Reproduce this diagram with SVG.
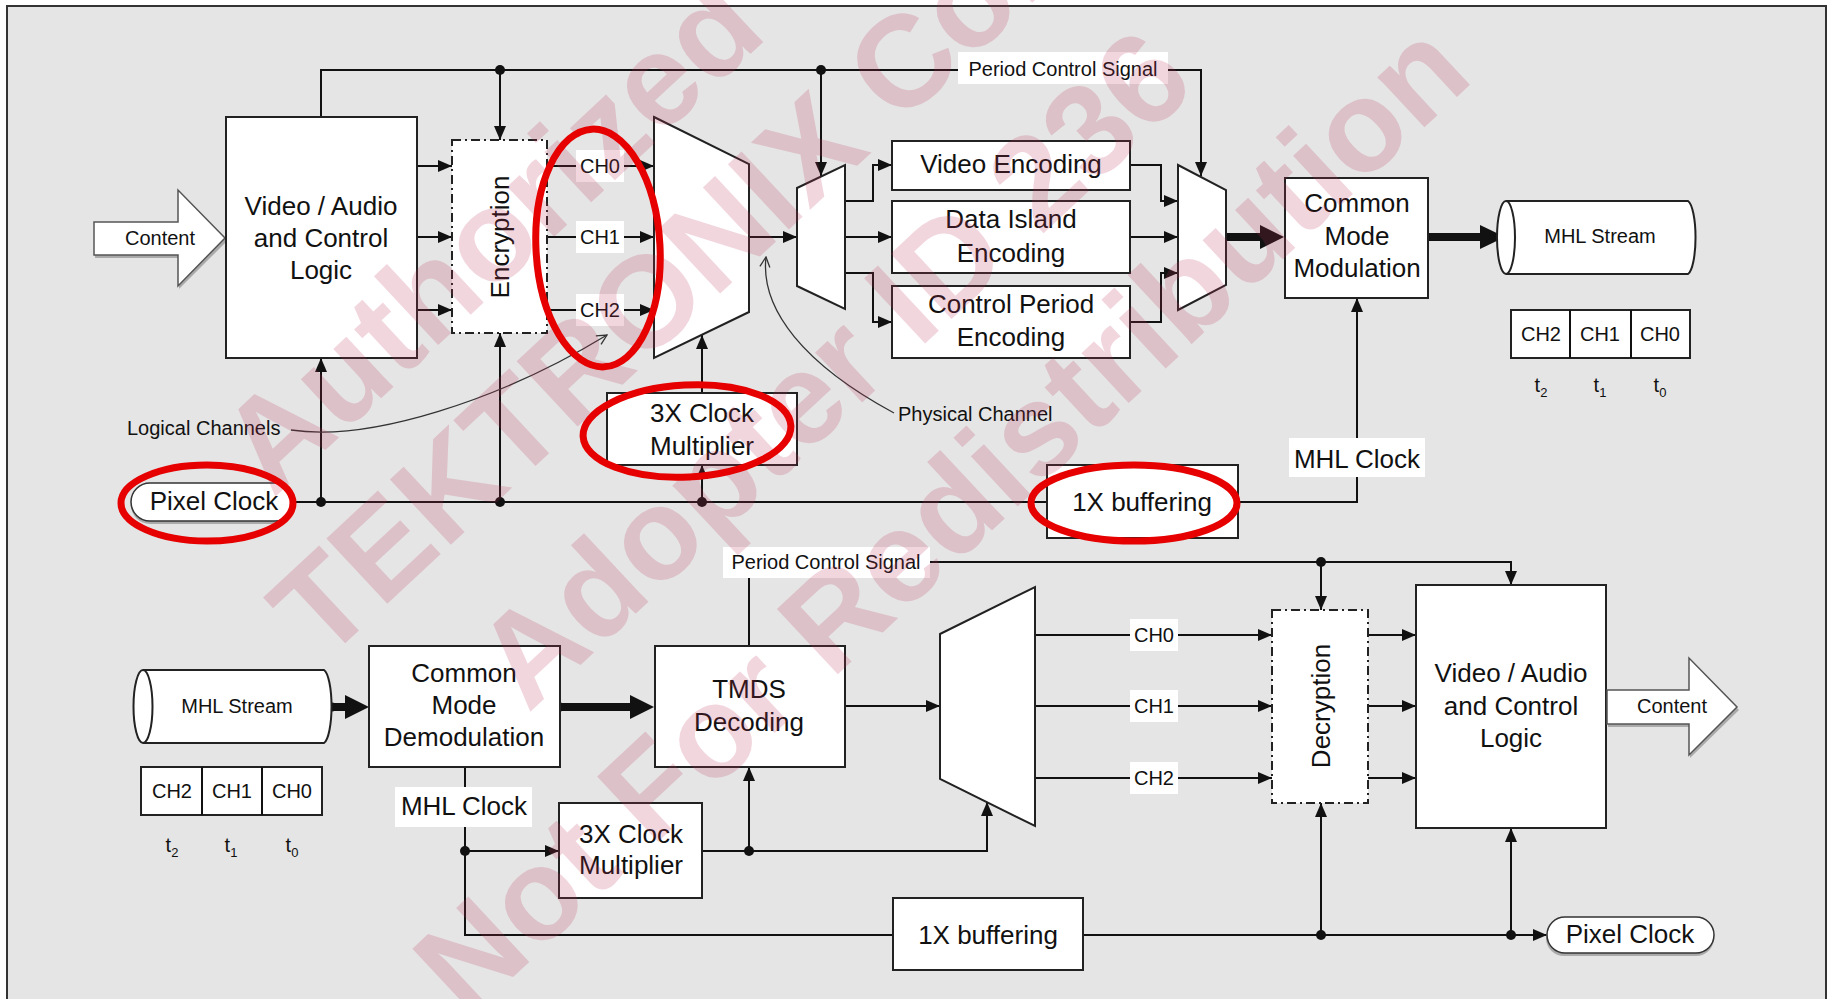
<svg xmlns="http://www.w3.org/2000/svg" width="1831" height="999" viewBox="0 0 1831 999">
<defs>
<style>
.bx{fill:#fff;stroke:#222;stroke-width:2}
.dd{fill:#fff;stroke:#222;stroke-width:2;stroke-dasharray:9 4 2 4}
.ln{fill:none;stroke:#111;stroke-width:2}
.thin{fill:none;stroke:#333;stroke-width:1.3}
.thk{fill:none;stroke:#111;stroke-width:8}
.lb{fill:#fff}
.sh{fill:#aaa}
text{font-family:"Liberation Sans",Arial,sans-serif;fill:#111}
.t26{font-size:26px;text-anchor:middle}
.t20{font-size:20px;text-anchor:middle}
.ts{font-size:20px}
.wm{font-family:"Liberation Sans",Arial,sans-serif;font-weight:bold;font-size:130px;fill:#c0305a;fill-opacity:0.2}
.red{fill:none;stroke:#e60000;stroke-width:7}
</style>
<marker id="ah" viewBox="0 0 14 12" refX="14" refY="6" markerWidth="14" markerHeight="12" markerUnits="userSpaceOnUse" orient="auto"><path d="M0,0 L14,6 L0,12 z" fill="#111"/></marker>
<marker id="oh" viewBox="0 0 12 12" refX="11" refY="6" markerWidth="12" markerHeight="12" markerUnits="userSpaceOnUse" orient="auto"><path d="M1,1 L11,6 L1,11" fill="none" stroke="#333" stroke-width="1.3"/></marker>
</defs>

<rect x="0" y="0" width="1831" height="999" fill="#fff"/>
<rect id="frame" x="7" y="6" width="1819" height="1010" fill="#e5e5e5" stroke="#333" stroke-width="2"/>

<g id="connectors">
  <path class="ln" d="M321,117 V70 H1201 V176" marker-end="url(#ah)"/>
  <path class="ln" d="M500,70 V140" marker-end="url(#ah)"/>
  <path class="ln" d="M821,70 V176" marker-end="url(#ah)"/>
  <path class="ln" d="M417,166 H452" marker-end="url(#ah)"/>
  <path class="ln" d="M417,237 H452" marker-end="url(#ah)"/>
  <path class="ln" d="M417,310 H452" marker-end="url(#ah)"/>
  <path class="ln" d="M547,166 H654" marker-end="url(#ah)"/>
  <path class="ln" d="M547,237 H654" marker-end="url(#ah)"/>
  <path class="ln" d="M547,310 H654" marker-end="url(#ah)"/>
  <path class="ln" d="M749,237 H797" marker-end="url(#ah)"/>
  <path class="ln" d="M845,201 H873 V165 H892" marker-end="url(#ah)"/>
  <path class="ln" d="M845,237 H892" marker-end="url(#ah)"/>
  <path class="ln" d="M845,273 H873 V322 H892" marker-end="url(#ah)"/>
  <path class="ln" d="M1130,165 H1161 V201 H1178" marker-end="url(#ah)"/>
  <path class="ln" d="M1130,237 H1178" marker-end="url(#ah)"/>
  <path class="ln" d="M1130,322 H1161 V273 H1178" marker-end="url(#ah)"/>
  <path class="thk" d="M1224,237 H1262"/>
  <polygon points="1260,225 1284,237 1260,249" fill="#111"/>
  <circle cx="1224" cy="237" r="4.5" fill="#111"/>
  <path class="thk" d="M1428,237 H1482"/>
  <polygon points="1480,225 1505,237 1480,249" fill="#111"/>
  <path class="ln" d="M293,502 H1047"/>
  <path class="ln" d="M321,502 V358" marker-end="url(#ah)"/>
  <path class="ln" d="M500,502 V333" marker-end="url(#ah)"/>
  <path class="ln" d="M702,502 V465" marker-end="url(#ah)"/>
  <path class="ln" d="M702,393 V335" marker-end="url(#ah)"/>
  <path class="ln" d="M1238,502 H1357 V298" marker-end="url(#ah)"/>
  <circle cx="500" cy="70" r="5" fill="#111"/>
  <circle cx="821" cy="70" r="5" fill="#111"/>
  <circle cx="321" cy="502" r="5" fill="#111"/>
  <circle cx="500" cy="502" r="5" fill="#111"/>
  <circle cx="702" cy="502" r="5" fill="#111"/>
  <path class="thin" d="M291,430 C370,442 500,400 607,335" marker-end="url(#oh)"/>
  <path class="thin" d="M894,413 C805,365 760,310 766,257" marker-end="url(#oh)"/>

  <path class="ln" d="M749,646 V562 H1511 V585" marker-end="url(#ah)"/>
  <path class="ln" d="M1321,562 V610" marker-end="url(#ah)"/>
  <circle cx="1321" cy="562" r="5" fill="#111"/>
  <path class="thk" d="M332,707 H346"/>
  <polygon points="345,695 369,707 345,719" fill="#111"/>
  <circle cx="332" cy="707" r="4.5" fill="#111"/>
  <path class="thk" d="M560,707 H632"/>
  <polygon points="630,695 654,707 630,719" fill="#111"/>
  <circle cx="560" cy="707" r="4.5" fill="#111"/>
  <path class="ln" d="M845,706 H940" marker-end="url(#ah)"/>
  <path class="ln" d="M1035,635 H1272" marker-end="url(#ah)"/>
  <path class="ln" d="M1035,706 H1272" marker-end="url(#ah)"/>
  <path class="ln" d="M1035,778 H1272" marker-end="url(#ah)"/>
  <path class="ln" d="M1368,635 H1416" marker-end="url(#ah)"/>
  <path class="ln" d="M1368,706 H1416" marker-end="url(#ah)"/>
  <path class="ln" d="M1368,778 H1416" marker-end="url(#ah)"/>
  <path class="ln" d="M465,767 V935 H893"/>
  <path class="ln" d="M465,851 H559" marker-end="url(#ah)"/>
  <circle cx="465" cy="851" r="5" fill="#111"/>
  <path class="ln" d="M702,851 H987 V802" marker-end="url(#ah)"/>
  <path class="ln" d="M749,851 V767" marker-end="url(#ah)"/>
  <circle cx="749" cy="851" r="5" fill="#111"/>
  <path class="ln" d="M1083,935 H1547" marker-end="url(#ah)"/>
  <path class="ln" d="M1321,935 V803" marker-end="url(#ah)"/>
  <path class="ln" d="M1511,935 V828" marker-end="url(#ah)"/>
  <circle cx="1321" cy="935" r="5" fill="#111"/>
  <circle cx="1511" cy="935" r="5" fill="#111"/>
</g>

<g id="content_in">
  <polygon class="sh" points="95,225 179,225 179,193 227,241 179,289 179,258 95,258"/>
  <polygon points="94,222 178,222 178,190 225,238 178,286 178,255 94,255" fill="#fff" stroke="#555" stroke-width="1.5"/>
  <text class="t20" x="160" y="245">Content</text>
</g>
<g id="vac_tx">
  <rect class="bx" x="226" y="117" width="191" height="241"/>
  <text class="t26" x="321" y="215">Video / Audio</text>
  <text class="t26" x="321" y="247">and Control</text>
  <text class="t26" x="321" y="279">Logic</text>
</g>
<g id="encryption">
  <rect class="dd" x="452" y="140" width="95" height="193"/>
  <text class="t26" transform="translate(509,237) rotate(-90)">Encryption</text>
</g>
<g id="ch_labels_tx">
  <rect class="lb" x="576" y="150" width="48" height="32"/>
  <text class="t20" x="600" y="173">CH0</text>
  <rect class="lb" x="576" y="221" width="48" height="32"/>
  <text class="t20" x="600" y="244">CH1</text>
  <rect class="lb" x="576" y="294" width="48" height="32"/>
  <text class="t20" x="600" y="317">CH2</text>
</g>
<g id="serializer">
  <polygon class="bx" points="654,117 749,164 749,312 654,358"/>
</g>
<g id="clk3x_tx">
  <rect class="bx" x="607" y="393" width="190" height="72"/>
  <text class="t26" x="702" y="422">3X Clock</text>
  <text class="t26" x="702" y="455">Multiplier</text>
</g>
<g id="demux">
  <polygon class="bx" points="797,188 845,165 845,309 797,286"/>
</g>
<g id="video_enc">
  <rect class="bx" x="892" y="141" width="238" height="49"/>
  <text class="t26" x="1011" y="173">Video Encoding</text>
</g>
<g id="data_island_enc">
  <rect class="bx" x="892" y="201" width="238" height="72"/>
  <text class="t26" x="1011" y="228">Data Island</text>
  <text class="t26" x="1011" y="262">Encoding</text>
</g>
<g id="control_period_enc">
  <rect class="bx" x="892" y="286" width="238" height="72"/>
  <text class="t26" x="1011" y="313">Control Period</text>
  <text class="t26" x="1011" y="346">Encoding</text>
</g>
<g id="mux">
  <polygon class="bx" points="1178,165 1226,190 1226,285 1178,310"/>
</g>
<g id="cmm">
  <rect class="bx" x="1285" y="178" width="143" height="120"/>
  <text class="t26" x="1357" y="212">Common</text>
  <text class="t26" x="1357" y="245">Mode</text>
  <text class="t26" x="1357" y="277">Modulation</text>
</g>
<g id="mhl_stream_tx">
  <path class="bx" d="M1506,201 H1688 A9,37 0 0 1 1688,274 H1506"/>
  <ellipse class="bx" cx="1506" cy="237.5" rx="9" ry="36.5"/>
  <text class="t20" x="1600" y="243">MHL Stream</text>
</g>
<g id="ch_table_tx">
  <rect class="bx" x="1511" y="310" width="179" height="48"/>
  <path class="ln" d="M1570,310 V358 M1631,310 V358"/>
  <text class="t20" x="1541" y="341">CH2</text>
  <text class="t20" x="1600" y="341">CH1</text>
  <text class="t20" x="1660" y="341">CH0</text>
  <text class="t20" x="1541" y="392">t<tspan font-size="13" dy="5">2</tspan></text>
  <text class="t20" x="1600" y="392">t<tspan font-size="13" dy="5">1</tspan></text>
  <text class="t20" x="1660" y="392">t<tspan font-size="13" dy="5">0</tspan></text>
</g>
<g id="pixel_clock_tx">
  <rect class="sh" x="131" y="486" width="163" height="38" rx="19"/>
  <rect x="131" y="483" width="163" height="38" rx="19" fill="#fff" stroke="#333" stroke-width="1.5"/>
  <text class="t26" x="214" y="510">Pixel Clock</text>
</g>
<g id="buf1x_tx">
  <rect class="bx" x="1047" y="465" width="191" height="73"/>
  <text class="t26" x="1142" y="511">1X buffering</text>
</g>
<g id="labels_tx">
  <rect class="lb" x="958" y="52" width="210" height="32"/>
  <text class="t20" x="1063" y="76">Period Control Signal</text>
  <rect class="lb" x="1289" y="438" width="136" height="39"/>
  <text class="t26" x="1357" y="468">MHL Clock</text>
  <text class="ts" x="127" y="435">Logical Channels</text>
  <text class="ts" x="898" y="421">Physical Channel</text>
</g>

<g id="mhl_stream_rx">
  <path class="bx" d="M143,670 H324 A9,37 0 0 1 324,743 H143"/>
  <ellipse class="bx" cx="143" cy="706.5" rx="9.5" ry="36.5"/>
  <text class="t20" x="237" y="713">MHL Stream</text>
</g>
<g id="ch_table_rx">
  <rect class="bx" x="141" y="767" width="181" height="48"/>
  <path class="ln" d="M202,767 V815 M262,767 V815"/>
  <text class="t20" x="172" y="798">CH2</text>
  <text class="t20" x="232" y="798">CH1</text>
  <text class="t20" x="292" y="798">CH0</text>
  <text class="t20" x="172" y="852">t<tspan font-size="13" dy="5">2</tspan></text>
  <text class="t20" x="231" y="852">t<tspan font-size="13" dy="5">1</tspan></text>
  <text class="t20" x="292" y="852">t<tspan font-size="13" dy="5">0</tspan></text>
</g>
<g id="cmd">
  <rect class="bx" x="369" y="646" width="191" height="121"/>
  <text class="t26" x="464" y="682">Common</text>
  <text class="t26" x="464" y="714">Mode</text>
  <text class="t26" x="464" y="746">Demodulation</text>
</g>
<g id="tmds_decoding">
  <rect class="bx" x="655" y="646" width="190" height="121"/>
  <text class="t26" x="749" y="698">TMDS</text>
  <text class="t26" x="749" y="731">Decoding</text>
</g>
<g id="deserializer">
  <polygon class="bx" points="940,634 1035,587 1035,826 940,779"/>
</g>
<g id="ch_labels_rx">
  <rect class="lb" x="1130" y="619" width="48" height="32"/>
  <text class="t20" x="1154" y="642">CH0</text>
  <rect class="lb" x="1130" y="690" width="48" height="32"/>
  <text class="t20" x="1154" y="713">CH1</text>
  <rect class="lb" x="1130" y="762" width="48" height="32"/>
  <text class="t20" x="1154" y="785">CH2</text>
</g>
<g id="decryption">
  <rect class="dd" x="1272" y="610" width="96" height="193"/>
  <text class="t26" transform="translate(1330,706) rotate(-90)">Decryption</text>
</g>
<g id="vac_rx">
  <rect class="bx" x="1416" y="585" width="190" height="243"/>
  <text class="t26" x="1511" y="682">Video / Audio</text>
  <text class="t26" x="1511" y="715">and Control</text>
  <text class="t26" x="1511" y="747">Logic</text>
</g>
<g id="content_out">
  <polygon class="sh" points="1608,693 1690,693 1690,661 1739,710 1690,758 1690,727 1608,727"/>
  <polygon points="1607,690 1689,690 1689,658 1737,707 1689,755 1689,724 1607,724" fill="#fff" stroke="#555" stroke-width="1.5"/>
  <text class="t20" x="1672" y="713">Content</text>
</g>
<g id="clk3x_rx">
  <rect class="bx" x="559" y="803" width="143" height="95"/>
  <text class="t26" x="631" y="843">3X Clock</text>
  <text class="t26" x="631" y="874">Multiplier</text>
</g>
<g id="buf1x_rx">
  <rect class="bx" x="893" y="898" width="190" height="72"/>
  <text class="t26" x="988" y="944">1X buffering</text>
</g>
<g id="pixel_clock_rx">
  <rect class="sh" x="1546" y="920" width="168" height="36" rx="18"/>
  <rect x="1547" y="917" width="167" height="36" rx="18" fill="#fff" stroke="#333" stroke-width="1.5"/>
  <text class="t26" x="1630" y="943">Pixel Clock</text>
</g>
<g id="labels_rx">
  <rect class="lb" x="723" y="547" width="207" height="31"/>
  <text class="t20" x="826" y="569">Period Control Signal</text>
  <rect class="lb" x="395" y="787" width="137" height="40"/>
  <text class="t26" x="464" y="815">MHL Clock</text>
</g>

<g id="watermark">
  <text class="wm" transform="translate(273,499) rotate(-43)">Authorized Copy</text>
  <text class="wm" transform="translate(323,664) rotate(-43)">TEKTRONIX Corp</text>
  <text class="wm" transform="translate(528,714) rotate(-43)">Adopter ID 236</text>
  <text class="wm" transform="translate(467,1020) rotate(-43)">Not For Redistribution</text>
</g>

<g id="annotations">
  <ellipse class="red" cx="598" cy="248" rx="62" ry="119" transform="rotate(-3 598 248)"/>
  <ellipse class="red" cx="687" cy="431" rx="104" ry="46" transform="rotate(-3 687 431)"/>
  <ellipse class="red" cx="207" cy="503" rx="86" ry="38"/>
  <ellipse class="red" cx="1134" cy="503" rx="103" ry="38"/>
</g>
</svg>
